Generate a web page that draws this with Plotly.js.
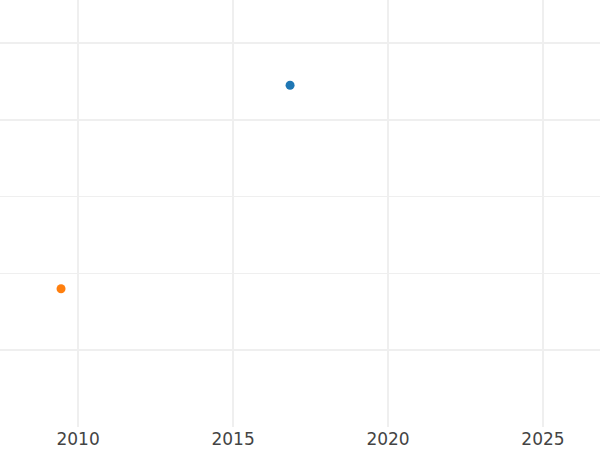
<!DOCTYPE html>
<html>
<head>
<meta charset="utf-8">
<script src="https://cdn.plot.ly/plotly-3.0.1.min.js"></script>
<style>html,body{margin:0;padding:0;background:#fff;}#chart{width:600px;height:450px;}</style>
</head>
<body>
<div id="chart"></div>
<script>
const seriesNames = ["A", "B"];
const seriesX = [[2016.84], [2009.45]];
const seriesY = [[44.5], [18.0]];
const seriesColors = ["#1f77b4", "#ff7f0e"];
const xTickVals = [2010, 2015, 2020, 2025];
const xTickText = ["2010", "2015", "2020", "2025"];

const traces = seriesNames.map((n, i) => ({
  type: "scatter", mode: "markers", name: n,
  x: seriesX[i], y: seriesY[i],
  marker: {color: seriesColors[i], size: 9}
}));

const layout = {
  width: 600, height: 450,
  margin: {l: 0, r: 0, t: 0, b: 23, pad: 0},
  paper_bgcolor: "#fff", plot_bgcolor: "#fff",
  showlegend: false,
  font: {family: "DejaVu Sans", color: "#444"},
  xaxis: {
    range: [2007.48, 2026.84], tickvals: xTickVals, ticktext: xTickText,
    showgrid: true, gridcolor: "#efefef", gridwidth: 1.5, zeroline: false,
    showline: false, ticks: "", tickfont: {size: 17, color: "#444"}
  },
  yaxis: {
    range: [0, 55.6], dtick: 10, tick0: 0, showticklabels: false,
    showgrid: true, gridcolor: "#efefef", gridwidth: 1.5, zeroline: false,
    showline: false, ticks: ""
  }
};
Plotly.newPlot("chart", traces, layout, {displayModeBar: false, staticPlot: true});
</script>
</body>
</html>
